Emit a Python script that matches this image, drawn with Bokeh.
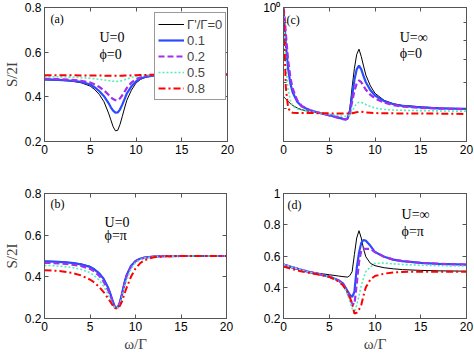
from bokeh.plotting import figure
from bokeh.models import (Label, Legend, LegendItem, LinearAxis, LogAxis,
                          FixedTicker, Range1d, CustomJSTickFormatter)
from bokeh.layouts import column, row
from bokeh.embed import file_html
from bokeh.resources import INLINE

# ---------------- data ----------------
series_names = ["Γ'/Γ=0", "0.1", "0.2", "0.5", "0.8"]
x_ticks = [0, 5, 10, 15, 20]

# panel (a): U=0, phi=0
x_a = [0, 1, 2, 3, 4, 5, 5.5, 6, 6.5, 7, 7.25, 7.5, 7.75, 8, 8.25, 8.5, 8.75, 9, 9.5, 10, 10.5, 11, 12, 13, 15, 20]
black_a = [0.476, 0.475, 0.473, 0.470, 0.463, 0.448, 0.432, 0.410, 0.378, 0.327, 0.297, 0.266, 0.248, 0.250, 0.276, 0.312, 0.350, 0.385, 0.430, 0.462, 0.478, 0.487, 0.495, 0.498, 0.500, 0.500]
blue_a = [0.478, 0.477, 0.475, 0.472, 0.467, 0.455, 0.442, 0.425, 0.403, 0.372, 0.353, 0.338, 0.329, 0.330, 0.343, 0.365, 0.390, 0.415, 0.447, 0.469, 0.482, 0.489, 0.496, 0.498, 0.500, 0.500]
purple_a = [0.481, 0.480, 0.478, 0.476, 0.472, 0.464, 0.455, 0.444, 0.429, 0.409, 0.398, 0.390, 0.385, 0.385, 0.393, 0.407, 0.423, 0.440, 0.464, 0.479, 0.488, 0.493, 0.497, 0.499, 0.500, 0.500]
cyan_a = [0.490, 0.490, 0.489, 0.488, 0.486, 0.483, 0.481, 0.478, 0.476, 0.473, 0.471, 0.470, 0.469, 0.469, 0.470, 0.473, 0.476, 0.480, 0.486, 0.491, 0.495, 0.497, 0.499, 0.500, 0.500, 0.500]
red_a = [0.497, 0.497, 0.497, 0.497, 0.496, 0.496, 0.495, 0.495, 0.495, 0.494, 0.494, 0.494, 0.494, 0.494, 0.494, 0.494, 0.495, 0.495, 0.496, 0.497, 0.498, 0.498, 0.499, 0.500, 0.500, 0.500]

# panel (b): U=0, phi=pi
x_b = [0, 1, 2, 3, 4, 5, 5.5, 6, 6.5, 7, 7.25, 7.5, 7.75, 8, 8.25, 8.5, 8.75, 9, 9.5, 10, 10.5, 11, 12, 13, 15, 20]
black_b = [0.475, 0.474, 0.472, 0.468, 0.462, 0.450, 0.438, 0.420, 0.393, 0.350, 0.320, 0.285, 0.255, 0.250, 0.275, 0.320, 0.370, 0.410, 0.455, 0.478, 0.488, 0.493, 0.498, 0.499, 0.500, 0.500]
blue_b = [0.474, 0.473, 0.471, 0.467, 0.460, 0.448, 0.435, 0.417, 0.390, 0.347, 0.317, 0.283, 0.255, 0.250, 0.273, 0.315, 0.365, 0.405, 0.452, 0.476, 0.487, 0.492, 0.497, 0.499, 0.500, 0.500]
purple_b = [0.467, 0.466, 0.463, 0.459, 0.452, 0.438, 0.425, 0.405, 0.377, 0.335, 0.307, 0.276, 0.252, 0.250, 0.270, 0.310, 0.358, 0.398, 0.448, 0.474, 0.486, 0.492, 0.497, 0.499, 0.500, 0.500]
cyan_b = [0.455, 0.453, 0.450, 0.445, 0.436, 0.420, 0.405, 0.384, 0.355, 0.315, 0.291, 0.266, 0.250, 0.250, 0.265, 0.298, 0.342, 0.382, 0.437, 0.468, 0.482, 0.490, 0.496, 0.499, 0.500, 0.500]
red_b = [0.432, 0.430, 0.426, 0.419, 0.407, 0.387, 0.372, 0.352, 0.327, 0.296, 0.279, 0.263, 0.250, 0.248, 0.258, 0.280, 0.313, 0.345, 0.400, 0.440, 0.465, 0.480, 0.494, 0.498, 0.500, 0.500]

# panel (c): U=inf, phi=0 (log scale)
x_c = [0, 0.1, 0.25, 0.5, 0.75, 1, 1.5, 2, 3, 4, 5, 6, 6.5, 6.8, 7, 7.25, 7.5, 7.75, 8, 8.25, 8.5, 8.75, 9, 9.5, 10, 11, 12, 13, 15, 17, 20]
black_c = [0.545, 0.540, 0.535, 0.527, 0.518, 0.512, 0.503, 0.497, 0.490, 0.485, 0.479, 0.472, 0.468, 0.465, 0.470, 0.500, 0.580, 0.660, 0.725, 0.752, 0.715, 0.670, 0.630, 0.585, 0.556, 0.530, 0.518, 0.512, 0.507, 0.503, 0.500]
blue_c = [0.98, 0.90, 0.78, 0.66, 0.595, 0.560, 0.525, 0.508, 0.494, 0.486, 0.479, 0.471, 0.467, 0.465, 0.468, 0.490, 0.545, 0.610, 0.655, 0.672, 0.655, 0.625, 0.600, 0.568, 0.548, 0.527, 0.516, 0.510, 0.505, 0.502, 0.500]
purple_c = [1.0, 0.95, 0.84, 0.70, 0.62, 0.575, 0.530, 0.510, 0.494, 0.486, 0.478, 0.470, 0.466, 0.465, 0.468, 0.485, 0.525, 0.565, 0.595, 0.607, 0.600, 0.585, 0.570, 0.550, 0.537, 0.522, 0.513, 0.508, 0.503, 0.501, 0.499]
cyan_c = [0.97, 0.85, 0.68, 0.57, 0.53, 0.51, 0.500, 0.495, 0.490, 0.486, 0.482, 0.478, 0.476, 0.475, 0.476, 0.480, 0.492, 0.507, 0.518, 0.523, 0.523, 0.519, 0.515, 0.508, 0.503, 0.498, 0.496, 0.495, 0.494, 0.493, 0.492]
red_c = [0.99, 0.80, 0.58, 0.505, 0.490, 0.487, 0.486, 0.486, 0.486, 0.485, 0.485, 0.484, 0.484, 0.484, 0.484, 0.484, 0.485, 0.487, 0.489, 0.490, 0.490, 0.489, 0.488, 0.487, 0.486, 0.485, 0.485, 0.484, 0.484, 0.484, 0.483]

# panel (d): U=inf, phi=pi
x_d = [0, 1, 2, 3, 4, 5, 6, 6.5, 7, 7.25, 7.5, 7.75, 8, 8.25, 8.5, 8.75, 9, 9.5, 10, 11, 12, 13, 15, 17, 20]
black_d = [0.540, 0.523, 0.508, 0.497, 0.488, 0.480, 0.472, 0.468, 0.465, 0.475, 0.500, 0.610, 0.715, 0.762, 0.715, 0.645, 0.595, 0.553, 0.538, 0.525, 0.518, 0.513, 0.508, 0.505, 0.503]
blue_d = [0.545, 0.527, 0.510, 0.495, 0.482, 0.468, 0.445, 0.425, 0.375, 0.352, 0.338, 0.370, 0.520, 0.620, 0.684, 0.703, 0.697, 0.665, 0.625, 0.595, 0.577, 0.567, 0.556, 0.550, 0.545]
purple_d = [0.545, 0.527, 0.510, 0.495, 0.482, 0.468, 0.443, 0.420, 0.365, 0.330, 0.295, 0.290, 0.420, 0.560, 0.635, 0.648, 0.645, 0.645, 0.625, 0.595, 0.577, 0.567, 0.556, 0.550, 0.545]
cyan_d = [0.545, 0.527, 0.510, 0.495, 0.482, 0.468, 0.440, 0.415, 0.355, 0.310, 0.265, 0.235, 0.285, 0.345, 0.410, 0.460, 0.500, 0.531, 0.552, 0.555, 0.550, 0.546, 0.541, 0.538, 0.535]
red_d = [0.532, 0.515, 0.500, 0.490, 0.480, 0.467, 0.438, 0.412, 0.370, 0.335, 0.295, 0.232, 0.237, 0.257, 0.287, 0.348, 0.400, 0.450, 0.472, 0.487, 0.495, 0.498, 0.500, 0.500, 0.500]

yticks_lin = [0.2, 0.4, 0.6, 0.8]
yticks_d = [0.2, 0.4, 0.6, 0.8, 1.0]
yticks_log_major = [1.0]
yticks_log_minor = [0.4, 0.5, 0.6, 0.7, 0.8, 0.9]

# ---------------- styles ----------------
STYLES = [
    dict(line_color="#000000", line_width=1.0, line_dash="solid"),
    dict(line_color="#2a4bff", line_width=2.2, line_dash="solid"),
    dict(line_color="#a030f0", line_width=2.2, line_dash="6 3"),
    dict(line_color="#55eebb", line_width=1.6, line_dash="2 2"),
    dict(line_color="#ff0000", line_width=2.0, line_dash="7 3 2 3"),
]
AX = "#555555"
TICK_FONT = "Liberation Sans"
SERIF = "Liberation Serif"
EMPTY = CustomJSTickFormatter(code="return ''")


def style_axis(ax, show_labels=True):
    ax.axis_line_color = AX
    ax.major_tick_line_color = AX
    ax.minor_tick_line_color = AX
    ax.major_tick_in = 4
    ax.major_tick_out = 0
    ax.minor_tick_in = 3
    ax.minor_tick_out = 0
    ax.major_label_text_font = TICK_FONT
    ax.major_label_text_color = "#000000"
    if show_labels:
        ax.major_label_text_font_size = "12px"
        ax.major_label_standoff = 3
    else:
        ax.formatter = EMPTY
        ax.major_label_text_font_size = "1px"
        ax.major_label_standoff = 0
    ax.axis_label_text_font = SERIF
    ax.axis_label_text_font_size = "15px"
    ax.axis_label_text_font_style = "normal"
    ax.axis_label_standoff = 2


def make_fig(width, height, mbl, mbr, mbt, mbb, yr, yticks, log=False,
             ylabel=None, xlabel=None):
    p = figure(width=width, height=height, x_range=Range1d(0, 20),
               y_range=Range1d(*yr), y_axis_type="log" if log else "linear",
               output_backend="svg", toolbar_location=None,
               min_border_left=mbl, min_border_right=mbr,
               min_border_top=mbt, min_border_bottom=mbb)
    p.grid.visible = False
    p.outline_line_color = AX
    p.background_fill_color = "white"
    p.border_fill_color = "white"
    p.xaxis.ticker = FixedTicker(ticks=x_ticks)
    if log:
        p.yaxis.ticker = FixedTicker(ticks=yticks_log_major, minor_ticks=yticks_log_minor)
        p.yaxis.major_label_overrides = {1: "10⁰"}
    else:
        p.yaxis.ticker = FixedTicker(ticks=yticks)
        if 1.0 in yticks:
            p.yaxis.major_label_overrides = {1: "1"}
    style_axis(p.xaxis[0])
    style_axis(p.yaxis[0])
    if ylabel:
        p.yaxis.axis_label = ylabel
    if xlabel:
        p.xaxis.axis_label = xlabel
    # box ticks (top / right)
    top = LinearAxis(ticker=FixedTicker(ticks=x_ticks))
    style_axis(top, show_labels=False)
    p.add_layout(top, "above")
    if log:
        right = LogAxis(ticker=FixedTicker(ticks=yticks_log_major, minor_ticks=yticks_log_minor))
    else:
        right = LinearAxis(ticker=FixedTicker(ticks=yticks))
    style_axis(right, show_labels=False)
    p.add_layout(right, "right")
    return p


def add_lines(p, x, ys):
    rs = []
    for y, st in zip(ys, STYLES):
        rs.append(p.line(x, y, **st))
    return rs


def add_text(p, x, y, text, size):
    p.add_layout(Label(x=x, y=y, text=text, text_font=SERIF,
                       text_font_size=size, text_baseline="top",
                       text_color="#000000"))


pa = make_fig(252, 176, 41, 25, 7, 35, (0.2, 0.8), yticks_lin, ylabel="S/2I")
pc = make_fig(222, 176, 31, 8, 7, 35, (0.4, 1.0), None, log=True)
pb = make_fig(252, 178, 41, 26, 17, 32, (0.2, 0.8), yticks_lin, ylabel="S/2I", xlabel="ω/Γ")
pd = make_fig(222, 178, 31, 8, 17, 32, (0.2, 1.0), yticks_d, xlabel="ω/Γ")

ra = add_lines(pa, x_a, [black_a, blue_a, purple_a, cyan_a, red_a])
add_lines(pb, x_b, [black_b, blue_b, purple_b, cyan_b, red_b])
add_lines(pc, x_c, [black_c, blue_c, purple_c, cyan_c, red_c])
add_lines(pd, x_d, [black_d, blue_d, purple_d, cyan_d, red_d])

add_text(pa, 0.65, 0.778, "(a)", "12px")
add_text(pa, 6.0, 0.70, "U=0", "14px")
add_text(pa, 6.0, 0.625, "ϕ=0", "14px")
add_text(pb, 0.65, 0.783, "(b)", "12px")
add_text(pb, 6.6, 0.696, "U=0", "14px")
add_text(pb, 6.6, 0.636, "ϕ=π", "14px")
add_text(pc, 0.33, 0.966, "(c)", "12px")
add_text(pc, 12.7, 0.86, "U=∞", "14px")
add_text(pc, 12.7, 0.766, "ϕ=0", "14px")
add_text(pd, 0.44, 0.97, "(d)", "12px")
add_text(pd, 12.9, 0.916, "U=∞", "14px")
add_text(pd, 12.9, 0.806, "ϕ=π", "14px")

legend = Legend(items=[LegendItem(label=n, renderers=[r]) for n, r in zip(series_names, ra)],
                location=(110, 41))
legend.border_line_color = "#333333"
legend.border_line_width = 1
legend.background_fill_color = "white"
legend.background_fill_alpha = 1.0
legend.label_text_font = TICK_FONT
legend.label_text_font_size = "13px"
legend.glyph_width = 26
legend.glyph_height = 16
legend.label_height = 16
legend.label_standoff = 3
legend.spacing = 0
legend.padding = 3
legend.margin = 0
pa.add_layout(legend)

layout = column(row(pa, pc), row(pb, pd))

with open("out.html", "w") as f:
    f.write(file_html(layout, INLINE))
